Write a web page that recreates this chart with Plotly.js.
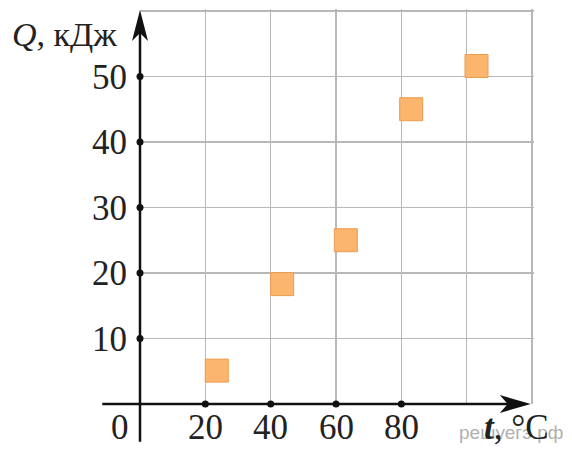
<!DOCTYPE html>
<html><head><meta charset="utf-8">
<script src="https://cdn.plot.ly/plotly-3.0.1.min.js"></script>
<style>html,body{margin:0;padding:0;background:#fff}#chart{width:572px;height:450px}</style>
</head><body><div id="chart"></div>
<script>
// Data
const temperatureC = [23.5, 43.5, 63, 83, 103];
const heatKJ = [5.1, 18.3, 25, 45, 51.6];

// Axis ticks
const xTickVals = [20, 40, 60, 80, 100, 120];
const xTickText = ['20', '40', '60', '80', '', ''];
const yTickVals = [10, 20, 30, 40, 50, 60];
const yTickText = ['10', '20', '30', '40', '50', ''];

const serif = 'Liberation Serif, Times New Roman, serif';
const labeledX = xTickVals.filter((v, i) => xTickText[i] !== '');
const labeledY = yTickVals.filter((v, i) => yTickText[i] !== '');

const xRange = [0, 120.6], yRange = [0, 60.3];
const xArrowTip = 119.3, yArrowTip = 60;

// plot area in pixels (for placing free labels in paper units)
const L = 140, T = 9, W = 394, H = 395;
const px = v => (v - L) / W;
const py = v => (T + H - v) / H;

const traces = [
  {
    type: 'scatter', mode: 'markers',
    x: temperatureC, y: heatKJ,
    marker: {symbol: 'square', size: 23, color: '#fbb56c', line: {color: '#eb9c50', width: 1}},
    cliponaxis: false
  },
  {
    type: 'scatter', mode: 'markers',
    x: labeledX.concat(labeledY.map(() => 0)),
    y: labeledX.map(() => 0).concat(labeledY),
    marker: {symbol: 'circle', size: 7, color: '#111'},
    cliponaxis: false
  }
];

const xTickAnnotations = labeledX.map((v, i) => ({
  x: v, y: py(427), xref: 'x', yref: 'paper', text: xTickText[xTickVals.indexOf(v)],
  showarrow: false, xanchor: 'center', yanchor: 'middle',
  font: {family: serif, size: 35, color: '#222'}
}));

const layout = {
  width: 572, height: 450,
  margin: {l: L, r: 572 - L - W, t: T, b: 450 - T - H},
  paper_bgcolor: '#fff', plot_bgcolor: '#fff',
  showlegend: false, hovermode: false,
  xaxis: {
    range: xRange, tickvals: xTickVals, ticktext: xTickVals.map(() => ''),
    showgrid: true, gridcolor: '#b8b8b8', gridwidth: 1.5,
    zeroline: false, showline: false, ticks: ''
  },
  yaxis: {
    range: yRange, tickvals: yTickVals, ticktext: yTickText,
    showgrid: true, gridcolor: '#b8b8b8', gridwidth: 1.5,
    zeroline: false, showline: false, ticks: '',
    ticklabelstandoff: 12,
    tickfont: {family: serif, size: 35, color: '#222'}
  },
  shapes: [
    // arrowheads (pixel-sized, anchored at the axis ends; paper refs so they are not clipped)
    {type: 'path', xref: 'paper', yref: 'paper', xsizemode: 'pixel', ysizemode: 'pixel',
     xanchor: xArrowTip / xRange[1], yanchor: 0, path: 'M1,0 L-30,9 L-22,0 L-30,-9 Z',
     fillcolor: '#111', line: {width: 0}},
    {type: 'path', xref: 'paper', yref: 'paper', xsizemode: 'pixel', ysizemode: 'pixel',
     xanchor: 0, yanchor: yArrowTip / yRange[1], path: 'M0,1 L-8,-30 L0,-22 L8,-30 Z',
     fillcolor: '#111', line: {width: 0}}
  ],
  annotations: xTickAnnotations.concat([
    // y axis line
    {x: 0, y: 57, ax: 0, ay: -6, xref: 'x', yref: 'y', axref: 'x', ayref: 'y',
     text: '', showarrow: true, arrowhead: 0, arrowwidth: 2.5, arrowcolor: '#111', standoff: 0},
    // x axis line
    {x: 115, y: 0, ax: -12, ay: 0, xref: 'x', yref: 'y', axref: 'x', ayref: 'y',
     text: '', showarrow: true, arrowhead: 0, arrowwidth: 2.5, arrowcolor: '#111', standoff: 0},
    // watermark
    {x: px(457), y: py(432), xref: 'paper', yref: 'paper', text: 'решуегэ.рф', showarrow: false,
     xanchor: 'left', yanchor: 'middle', font: {family: 'Liberation Sans, Arial, sans-serif', size: 19, color: '#b0b0b0'}},
    // origin label
    {x: px(120), y: py(427), xref: 'paper', yref: 'paper', text: '0', showarrow: false,
     xanchor: 'center', yanchor: 'middle', font: {family: serif, size: 35, color: '#222'}},
    // y axis title
    {x: px(119), y: py(34), xref: 'paper', yref: 'paper', text: '<i>Q</i>, кДж', showarrow: false,
     xanchor: 'right', yanchor: 'middle', font: {family: serif, size: 34, color: '#222'}},
    // x axis title
    {x: px(482), y: py(427), xref: 'paper', yref: 'paper', text: '<b><i>t</i></b>, °C', showarrow: false,
     xanchor: 'left', yanchor: 'middle', font: {family: serif, size: 35, color: '#222'}}
  ])
};

Plotly.newPlot('chart', traces, layout, {displayModeBar: false, staticPlot: true});
</script>
</body></html>
